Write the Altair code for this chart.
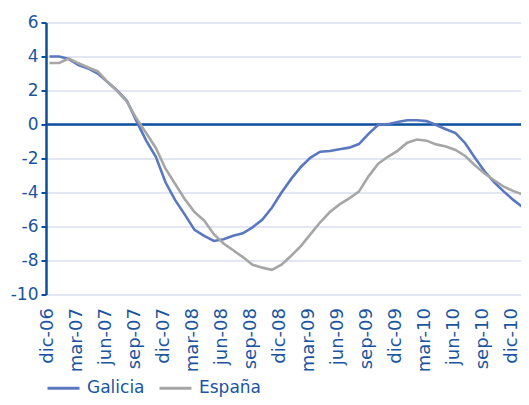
import altair as alt
import pandas as pd

months = ["dic-06","ene-07","feb-07","mar-07","abr-07","may-07","jun-07","jul-07","ago-07","sep-07",
          "oct-07","nov-07","dic-07","ene-08","feb-08","mar-08","abr-08","may-08","jun-08","jul-08",
          "ago-08","sep-08","oct-08","nov-08","dic-08","ene-09","feb-09","mar-09","abr-09","may-09",
          "jun-09","jul-09","ago-09","sep-09","oct-09","nov-09","dic-09","ene-10","feb-10","mar-10",
          "abr-10","may-10","jun-10","jul-10","ago-10","sep-10","oct-10","nov-10","dic-10","ene-11"]

galicia = [4.0, 4.0, 3.85, 3.5, 3.3, 3.0, 2.5, 2.0, 1.4, 0.2,
           -0.95, -1.9, -3.4, -4.45, -5.3, -6.2, -6.55, -6.85, -6.75, -6.55,
           -6.4, -6.05, -5.6, -4.9, -4.0, -3.2, -2.5, -1.95, -1.6, -1.56,
           -1.46, -1.36, -1.15, -0.55, -0.02, 0.02, 0.15, 0.25, 0.25, 0.2,
           -0.03, -0.28, -0.5, -1.1, -1.95, -2.75, -3.4, -3.95, -4.45, -4.88]

espana = [3.62, 3.62, 3.88, 3.6, 3.35, 3.12, 2.5, 1.97, 1.35, 0.35,
          -0.5, -1.38, -2.6, -3.5, -4.4, -5.15, -5.65, -6.45, -7.0, -7.4,
          -7.8, -8.25, -8.42, -8.55, -8.25, -7.72, -7.15, -6.45, -5.75, -5.15,
          -4.7, -4.35, -3.95, -3.05, -2.3, -1.9, -1.55, -1.07, -0.88, -0.95,
          -1.17, -1.3, -1.5, -1.85, -2.4, -2.88, -3.28, -3.66, -3.92, -4.12]

tick_labels = ["dic-06","mar-07","jun-07","sep-07","dic-07","mar-08","jun-08","sep-08","dic-08",
               "mar-09","jun-09","sep-09","dic-09","mar-10","jun-10","sep-10","dic-10"]

series_names = ["Galicia", "España"]
colors = ["#5a78bf", "#a6a6a6"]

rows = []
for i, m in enumerate(months):
    rows.append({"i": i, "mes": m, "serie": series_names[0], "v": galicia[i]})
    rows.append({"i": i, "mes": m, "serie": series_names[1], "v": espana[i]})
df = pd.DataFrame(rows)

text_color = "#1b55a0"
axis_color = "#0c4f9c"
grid_color = "#c7cee8"
font = "DejaVu Sans"

label_expr = "[" + ",".join("'%s'" % t for t in tick_labels) + "][round(datum.value/3)]"

x = alt.X("i:Q",
          scale=alt.Scale(domain=[-0.362, 48.77], nice=False, zero=False),
          axis=alt.Axis(values=list(range(0, 49, 3)), labelExpr=label_expr, labelAngle=-90,
                        labelAlign="right", labelBaseline="middle", labelPadding=13,
                        labelFontSize=18, labelColor=text_color, labelFont=font,
                        labelOverlap=False, labelBound=False, labelOffset=-2,
                        domain=False, ticks=False, grid=False, title=None))
y = alt.Y("v:Q",
          scale=alt.Scale(domain=[-10, 6], nice=False),
          axis=alt.Axis(values=list(range(-10, 7, 2)), labelExpr="datum.value + ''",
                        labelOverlap=False, labelFontSize=17, labelColor=text_color,
                        labelFont=font, labelPadding=3, tickSize=5, tickColor=axis_color,
                        tickWidth=2, domainColor=axis_color, domainWidth=2.5,
                        gridColor=grid_color, gridWidth=1.2, title=None))

lines = alt.Chart(df).mark_line(strokeWidth=2.6, clip=True).encode(
    x=x, y=y,
    color=alt.Color("serie:N",
                    scale=alt.Scale(domain=series_names, range=colors),
                    sort=series_names,
                    legend=alt.Legend(orient="none", legendX=0, legendY=348, direction="horizontal",
                                      title=None, symbolType="stroke", symbolSize=1024,
                                      symbolStrokeWidth=3, labelFontSize=17, labelColor=text_color,
                                      labelFont=font, labelOffset=6, columnPadding=8)),
    order="i:Q",
)

zero = alt.Chart(pd.DataFrame({"v": [0]})).mark_rule(color=axis_color, strokeWidth=2.5).encode(
    y=y
)

chart = alt.layer(zero, lines).properties(
    width=475, height=272,
    padding={"left": 38, "top": 14.5, "right": 0, "bottom": 102},
    autosize="none",
).configure_view(stroke=None)

chart.save("out.html", embed_options={"renderer": "svg", "actions": False})
